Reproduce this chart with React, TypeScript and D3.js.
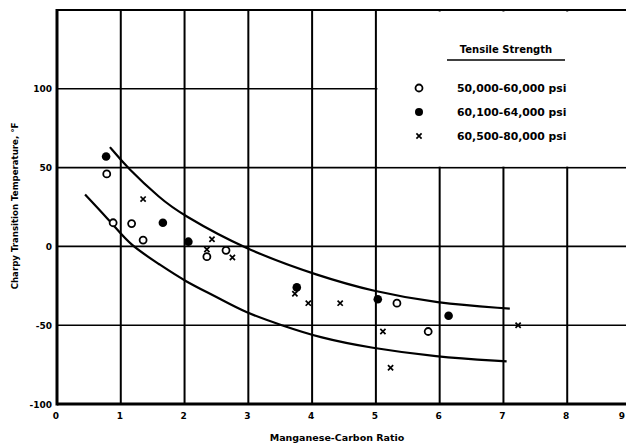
import * as d3 from "d3";
import { useEffect, useRef } from "react";

// Tensile strength groups: [Mn/C ratio, Charpy transition temperature °F]
const openCircles: [number, number][] = [
  [0.78, 46], [0.88, 15], [1.17, 14.5], [1.35, 4], [2.35, -6.5],
  [2.65, -2.5], [5.33, -36], [5.82, -54],
];
const filledCircles: [number, number][] = [
  [0.77, 57], [1.66, 15], [2.06, 3], [3.76, -26], [5.03, -33.5], [6.14, -44],
];
const crosses: [number, number][] = [
  [1.35, 30], [2.43, 4.5], [2.35, -2], [2.75, -7], [3.73, -30], [3.94, -36],
  [4.44, -36], [5.11, -54], [5.23, -77], [7.23, -50],
];

// band curves
const upperCurve: [number, number][] = [
  [0.83, 63], [1.1, 50], [1.63, 30], [1.93, 21], [2.95, -2], [4.12, -19],
  [4.95, -28.5], [5.94, -36], [7.1, -39.5],
];
const lowerCurve: [number, number][] = [
  [0.44, 33], [0.88, 14], [1.14, 1], [1.61, -11.5], [2.0, -22], [2.5, -32],
  [2.95, -42], [3.52, -50], [4.12, -58], [4.92, -64.5], [5.92, -70], [7.05, -73],
];

const xTicks = [0, 1, 2, 3, 4, 5, 6, 7, 8, 9];
const yTicks = [-100, -50, 0, 50, 100];
const yGrid = [-50, 0, 50, 100];

const legendTitle = "Tensile Strength";
const legendLabels = ["50,000-60,000 psi", "60,100-64,000 psi", "60,500-80,000 psi"];

const App = () => {
  const width = 626;
  const height = 447;
  const svgRef = useRef<SVGSVGElement>(null);

  useEffect(() => {
    if (!svgRef.current) return;
    const svg = d3.select(svgRef.current);
    svg.selectAll("*").remove();

    const x = d3.scaleLinear([0, 9], [57, 631]);
    const y = d3.scaleLinear([-100, 150], [404, 10]);
    const font = "'DejaVu Sans', sans-serif";

    // vertical grid
    svg
      .append("g")
      .selectAll("line")
      .data(xTicks.slice(1))
      .join("line")
      .attr("x1", (d) => x(d))
      .attr("x2", (d) => x(d))
      .attr("y1", y(150))
      .attr("y2", y(-100))
      .attr("stroke", "black")
      .attr("stroke-width", 2);

    // horizontal grid
    svg
      .append("g")
      .selectAll("line")
      .data(yGrid)
      .join("line")
      .attr("x1", x(0))
      .attr("x2", width)
      .attr("y1", (d) => y(d))
      .attr("y2", (d) => y(d))
      .attr("stroke", "black")
      .attr("stroke-width", 1.6);

    // legend area is blank (no grid)
    svg
      .append("rect")
      .attr("x", x(5) + 1.5)
      .attr("y", y(150) + 1.5)
      .attr("width", width - x(5))
      .attr("height", y(50) - y(150) - 2.5)
      .attr("fill", "white");

    // frame
    svg
      .append("line")
      .attr("x1", x(0))
      .attr("x2", width)
      .attr("y1", y(150))
      .attr("y2", y(150))
      .attr("stroke", "black")
      .attr("stroke-width", 2);
    svg
      .append("line")
      .attr("x1", x(0))
      .attr("x2", x(0))
      .attr("y1", y(150) - 1)
      .attr("y2", y(-100) + 1.5)
      .attr("stroke", "black")
      .attr("stroke-width", 3);
    svg
      .append("line")
      .attr("x1", x(0))
      .attr("x2", width)
      .attr("y1", y(-100))
      .attr("y2", y(-100))
      .attr("stroke", "black")
      .attr("stroke-width", 3);

    // tick labels
    svg
      .append("g")
      .selectAll("text")
      .data(xTicks)
      .join("text")
      .attr("x", (d) => Math.min(x(d) - 1, width - 4))
      .attr("y", y(-100) + 15)
      .attr("text-anchor", "middle")
      .attr("font-family", font)
      .attr("font-weight", "bold")
      .attr("font-size", 9)
      .text((d) => d);

    svg
      .append("g")
      .selectAll("text")
      .data(yTicks)
      .join("text")
      .attr("x", x(0) - 5)
      .attr("y", (d) => y(d) + 3.5)
      .attr("text-anchor", "end")
      .attr("font-family", font)
      .attr("font-weight", "bold")
      .attr("font-size", 9)
      .text((d) => (d < 0 ? "-" + Math.abs(d) : d));

    // axis titles
    svg
      .append("text")
      .attr("x", 337)
      .attr("y", 441)
      .attr("text-anchor", "middle")
      .attr("font-family", font)
      .attr("font-weight", "bold")
      .attr("font-size", 9.5)
      .text("Manganese-Carbon Ratio");
    svg
      .append("text")
      .attr("transform", "translate(18, 206) rotate(-90)")
      .attr("text-anchor", "middle")
      .attr("font-family", font)
      .attr("font-weight", "bold")
      .attr("font-size", 8.6)
      .text("Charpy Transition Temperature, °F");

    // curves
    const line = d3
      .line<[number, number]>()
      .x((d) => x(d[0]))
      .y((d) => y(d[1]))
      .curve(d3.curveBasis);
    [upperCurve, lowerCurve].forEach((c) => {
      svg
        .append("path")
        .attr("d", line(c))
        .attr("fill", "none")
        .attr("stroke", "black")
        .attr("stroke-width", 2.2);
    });

    // points
    svg
      .append("g")
      .selectAll("circle")
      .data(openCircles)
      .join("circle")
      .attr("cx", (d) => x(d[0]))
      .attr("cy", (d) => y(d[1]))
      .attr("r", 3.5)
      .attr("fill", "white")
      .attr("stroke", "black")
      .attr("stroke-width", 1.8);
    svg
      .append("g")
      .selectAll("circle")
      .data(filledCircles)
      .join("circle")
      .attr("cx", (d) => x(d[0]))
      .attr("cy", (d) => y(d[1]))
      .attr("r", 4.3)
      .attr("fill", "black");
    const cross = (g: d3.Selection<SVGGElement, unknown, null, undefined>, cx: number, cy: number) => {
      const s = 2.6;
      g.append("path")
        .attr("d", `M${cx - s},${cy - s}L${cx + s},${cy + s}M${cx - s},${cy + s}L${cx + s},${cy - s}`)
        .attr("stroke", "black")
        .attr("stroke-width", 1.7);
    };
    const crossG = svg.append("g");
    crosses.forEach((d) => cross(crossG, x(d[0]), y(d[1])));

    // legend
    const lg = svg.append("g").attr("font-family", font).attr("font-weight", "bold");
    lg.append("text")
      .attr("x", 506)
      .attr("y", 53)
      .attr("text-anchor", "middle")
      .attr("font-size", 10)
      .text(legendTitle);
    lg.append("line")
      .attr("x1", 447)
      .attr("x2", 565)
      .attr("y1", 60)
      .attr("y2", 60)
      .attr("stroke", "black")
      .attr("stroke-width", 1.5);
    const ly = [88, 112, 136];
    lg.append("circle")
      .attr("cx", 419)
      .attr("cy", ly[0])
      .attr("r", 3.5)
      .attr("fill", "white")
      .attr("stroke", "black")
      .attr("stroke-width", 1.8);
    lg.append("circle").attr("cx", 419).attr("cy", ly[1]).attr("r", 4).attr("fill", "black");
    cross(lg, 419, ly[2]);
    lg.selectAll("text.item")
      .data(legendLabels)
      .join("text")
      .attr("class", "item")
      .attr("x", 457)
      .attr("y", (_, i) => ly[i] + 4)
      .attr("font-size", 10.8)
      .text((d) => d);
  }, []);

  return (
    <svg
      width={width}
      height={height}
      ref={svgRef}
      style={{ position: "absolute", left: 0, top: 0, background: "white" }}
    ></svg>
  );
};

export default App;
